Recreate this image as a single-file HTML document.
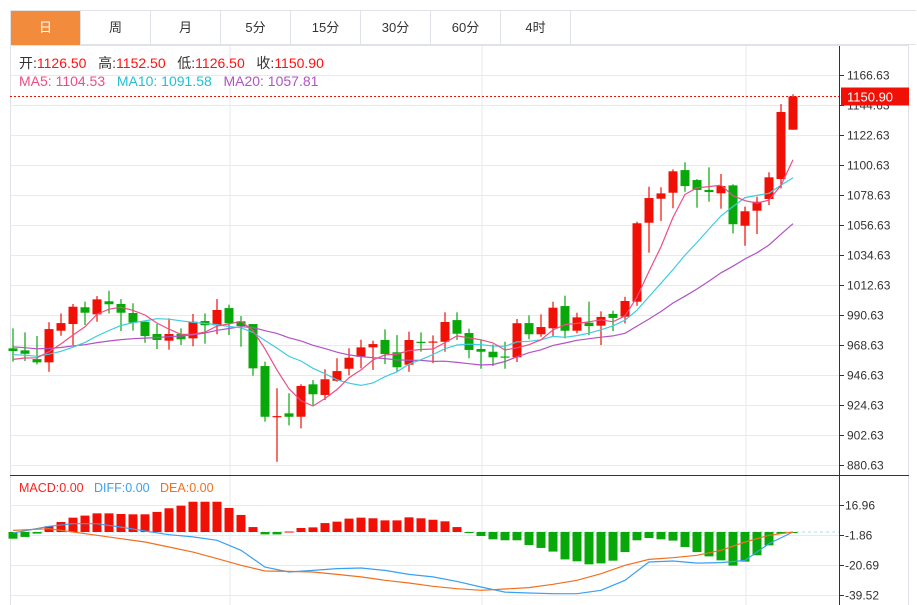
<!DOCTYPE html>
<html><head><meta charset="utf-8"><style>
body{margin:0;background:#fff;width:917px;height:605px;overflow:hidden;font-family:"Liberation Sans","Noto Sans CJK SC",sans-serif}
#tabs{position:absolute;left:10px;top:10px;height:35px;width:906px;border:1px solid #dfe3e8;border-right:none;box-sizing:border-box;display:flex}
.tab{width:70px;height:34px;line-height:34px;text-align:center;font-size:13px;color:#333;border-right:1px solid #dfe3e8;box-sizing:border-box}
.tab.on{background:#f28c3c;color:#fff}
svg{position:absolute;left:0;top:0}
</style></head><body>
<div id="tabs">
<div class="tab on">日</div>
<div class="tab">周</div>
<div class="tab">月</div>
<div class="tab">5分</div>
<div class="tab">15分</div>
<div class="tab">30分</div>
<div class="tab">60分</div>
<div class="tab">4时</div>
</div>
<svg id="c" width="917" height="605"></svg>
<script>
const opens=[966.2,964.7,958.3,955.9,979.1,984.0,996.3,991.1,1000.7,998.7,992.1,985.7,976.7,971.8,976.7,973.5,986.2,983.1,995.7,986.0,984.0,953.2,916.3,918.5,916.0,939.8,932.0,942.4,951.2,960.0,966.9,972.3,963.3,954.2,971.0,970.8,971.0,986.9,977.4,965.7,963.7,960.2,959.6,984.7,976.5,980.9,997.2,979.1,985.0,982.8,991.4,989.4,1000.4,1058.3,1075.9,1080.3,1096.9,1089.6,1082.3,1079.9,1085.7,1056.1,1067.1,1075.7,1090.3,1126.5];
const closes=[964.2,962.2,955.9,980.3,984.7,996.7,992.3,1002.1,998.5,992.3,985.0,975.2,972.3,976.7,972.8,985.7,983.1,994.3,984.6,982.5,951.5,916.0,916.5,916.0,938.6,932.5,943.5,949.5,959.3,966.9,969.3,962.0,952.3,972.3,970.6,971.2,985.5,976.9,965.0,963.7,959.6,959.8,984.6,976.5,981.8,996.0,979.1,988.9,982.5,989.2,988.5,1000.9,1057.9,1076.4,1079.8,1096.0,1085.2,1082.3,1080.8,1085.2,1057.2,1066.7,1073.7,1091.6,1139.5,1150.9];
const highs=[980.8,977.9,975.2,985.3,991.8,998.7,1000.4,1004.5,1008.4,1002.3,999.2,985.7,984.0,988.2,980.8,991.4,991.8,1002.3,998.2,989.9,984.0,956.4,936.9,933.2,939.8,942.9,950.8,958.9,966.2,972.5,971.8,980.1,975.9,978.4,977.9,975.7,992.6,992.6,980.6,972.3,969.1,971.0,987.7,990.4,991.1,1000.4,1004.8,992.3,1000.4,993.3,993.8,1004.0,1059.1,1084.7,1084.3,1097.4,1102.6,1090.3,1098.9,1094.0,1086.5,1070.1,1077.4,1095.3,1145.3,1152.5];
const lows=[956.4,956.9,954.4,949.0,975.4,968.6,983.3,985.7,991.8,978.9,979.1,970.3,965.7,965.2,968.6,967.7,969.6,976.5,975.9,967.4,946.1,912.4,883.0,909.7,907.5,924.6,928.3,941.7,946.4,951.5,950.3,954.7,948.8,949.0,963.7,955.4,963.7,972.3,958.9,951.2,953.2,951.2,956.1,972.8,974.7,975.2,973.5,977.2,975.9,968.6,978.9,984.5,997.4,1036.3,1059.6,1068.9,1081.0,1069.3,1073.7,1068.6,1050.5,1041.4,1050.0,1071.3,1083.5,1126.5];
const priorCloses=[975,972,974,971,973,975,972,974,973,971,966,964,965,963,967,957,955,958,956];
const priceTicks=[1166.63,1144.63,1122.63,1100.63,1078.63,1056.63,1034.63,1012.63,990.63,968.63,946.63,924.63,902.63,880.63];
const macdHist=[-4.2,-3.1,-1.0,3.6,6.3,9.0,10.3,11.7,11.7,11.3,11.1,11.1,12.6,14.9,16.5,19.0,19.0,19.0,15.1,10.7,3.1,-1.5,-1.5,0.3,2.5,2.9,5.6,6.5,8.4,9.0,8.6,7.3,7.3,9.2,8.6,7.7,6.7,3.1,-0.3,-2.5,-4.6,-5.2,-5.2,-8.2,-10.0,-12.3,-17.2,-18.4,-20.3,-19.7,-18.0,-12.6,-5.2,-3.8,-4.6,-5.4,-9.4,-12.6,-15.3,-17.8,-21.1,-18.6,-14.6,-8.4,-1.0,-0.3];
const lineIdx=[0,3,5,7,9,11,13,15,17,19,21,23,25,27,29,31,33,35,37,39,41,43,45,47,49,51,53,55,57,59,61,63,65];
const diffVals=[-0.6,3.6,5.2,5.2,3.1,0.6,-1.7,-3.1,-5.2,-11.5,-22.0,-25.1,-24.1,-23.0,-22.6,-24.1,-26.6,-28.2,-31.0,-34.5,-37.7,-38.3,-38.7,-38.7,-36.6,-30.3,-18.8,-18.2,-19.5,-19.2,-17.8,-7.3,0];
const deaVals=[1.0,2.1,0,-2.1,-4.2,-6.3,-9.4,-12.6,-16.7,-20.9,-24.5,-24.7,-25.1,-26.6,-28.2,-30.3,-32.0,-34.1,-35.6,-36.6,-35.8,-34.9,-32.8,-30.3,-26.2,-20.9,-17.2,-16.1,-14.6,-11.5,-6.3,-2.1,0];
const macdTicks=[16.96,-1.86,-20.69,-39.52];

const svg=document.getElementById('c');const NS='http://www.w3.org/2000/svg';
function mk(t,a,p){const e=document.createElementNS(NS,t);for(const k in a)e.setAttribute(k,a[k]);(p||svg).appendChild(e);return e;}
const X=i=>13+12*i;
const Y=p=>75+(1166.63-p)*30/22;
const M=v=>532-v*30/18.83;
const AX=839;
let e;
e=mk('rect',{x:10.5,y:45.5,width:898,height:570,fill:'none',stroke:'#dfe3e8'});

[230,482,746].forEach(x=>{e=mk('line',{x1:x,x2:x,y1:46,y2:605,stroke:'#e6eaef'});
});
priceTicks.forEach(t=>{const y=Math.round(Y(t))+.5;
e=mk('line',{x1:10,x2:AX,y1:y,y2:y,stroke:'#e6eaef'});

mk('line',{x1:AX,x2:AX+5,y1:y,y2:y,stroke:'#333'});
e=mk('text',{x:847,y:y+4,'font-size':12,fill:'#333'});e.textContent=t.toFixed(2);
});
macdTicks.forEach(t=>{const y=Math.round(M(t))+.5;
e=mk('line',{x1:10,x2:AX,y1:y,y2:y,stroke:'#e6eaef'});

mk('line',{x1:AX,x2:AX+5,y1:y,y2:y,stroke:'#333'});
e=mk('text',{x:845,y:y+4,'font-size':12,fill:'#333'});e.textContent=t.toFixed(2);
});
e=mk('line',{x1:AX+.5,x2:AX+.5,y1:46,y2:605,stroke:'#333'});

e=mk('line',{x1:10,x2:909,y1:475.5,y2:475.5,stroke:'#333'});

function hdr(y,fs,parts,name){const t=mk('text',{x:19,y:y,'font-size':fs});

parts.forEach(p=>{const s=mk('tspan',{fill:p[1]},t);s.textContent=p[0];});}
hdr(68,14,[['开:','#333'],['1126.50   ','#f11'],['高:','#333'],['1152.50   ','#f11'],['低:','#333'],['1126.50   ','#f11'],['收:','#333'],['1150.90','#f11']],'ohlc-header');
hdr(86,14,[['MA5: 1104.53   ','#ee4d84'],['MA10: 1091.58   ','#22c0d6'],['MA20: 1057.81','#b153c4']],'ma-legend');
hdr(492,12.5,[['MACD:0.00   ','#f22'],['DIFF:0.00   ','#3aa0f0'],['DEA:0.00','#f07020']],'macd-legend');
document.querySelectorAll('text').forEach(s=>s.setAttribute('style','white-space:pre'));
const UP='#f01005',DN='#08a80a';
closes.forEach((c,i)=>{const o=opens[i],col=c>=o?UP:DN,x=X(i);
const g=mk('g',{});
mk('line',{x1:x,x2:x,y1:Y(highs[i]),y2:Y(lows[i]),stroke:col,'stroke-width':1.2},g);
const t=Math.min(Y(o),Y(c)),h=Math.max(1.2,Math.abs(Y(o)-Y(c)));
mk('rect',{x:x-4.5,y:t,width:9,height:h,fill:col},g);});
const all=priorCloses.concat(closes);
function ma(n,color,name){const pts=closes.map((c,i)=>{const j=i+priorCloses.length;let s=0;for(let k=j-n+1;k<=j;k++)s+=all[k];return X(i)+','+Y(s/n).toFixed(1);});
const p=mk('polyline',{points:pts.join(' '),fill:'none',stroke:color,'stroke-width':1.2});
}
ma(20,'#b153c4','ma20-line');ma(10,'#3fcbe0','ma10-line');ma(5,'#ee4d84','ma5-line');
const ly=Math.round(Y(closes[closes.length-1]))+.5;
e=mk('line',{x1:10,x2:AX,y1:ly,y2:ly,stroke:'#f01005','stroke-dasharray':'2,2'});

e=mk('rect',{x:841,y:ly-9,width:68,height:18,fill:'#f01005'});

e=mk('text',{x:847,y:ly+5,'font-size':13,fill:'#fff'});e.textContent=closes[closes.length-1].toFixed(2);

e=mk('line',{x1:10,x2:AX,y1:M(0),y2:M(0),stroke:'#a8dcef','stroke-dasharray':'3,3'});

macdHist.forEach((v,i)=>{const y0=M(0),y1=M(v);
e=mk('rect',{x:X(i)-4.5,y:Math.min(y0,y1),width:9,height:Math.max(1,Math.abs(y1-y0)),fill:v>=0?UP:DN});
});
function ln(vals,color,name){const p=mk('polyline',{points:vals.map((v,k)=>X(lineIdx[k])+','+M(v).toFixed(1)).join(' '),fill:'none',stroke:color,'stroke-width':1.2});
}
ln(diffVals,'#3aa0f0','diff-line');ln(deaVals,'#f07020','dea-line');
</script>
</body></html>
